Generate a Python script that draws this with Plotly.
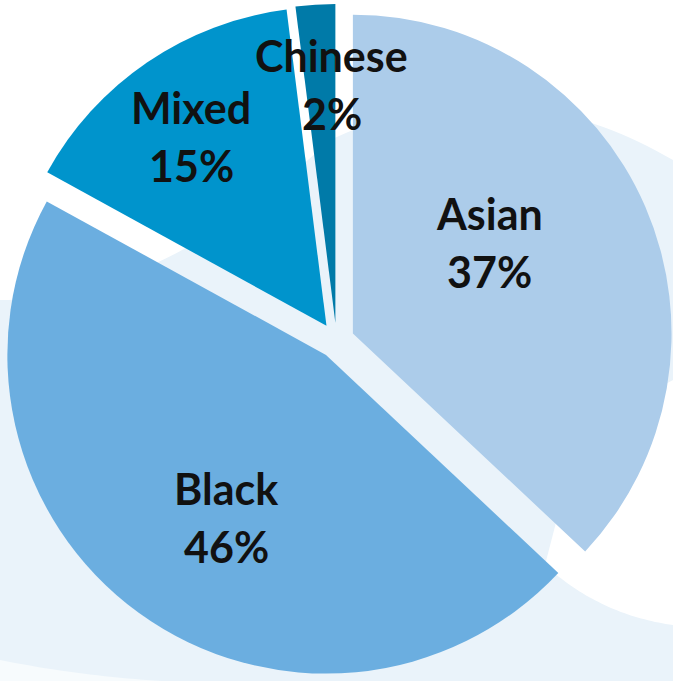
import plotly.graph_objects as go
import math

# ---- data ----
labels = ["Asian", "Black", "Mixed", "Chinese"]
values = [37, 46, 15, 2]

# ---- style ----
colors = ["#ACCCEA", "#6BAEE0", "#0094CC", "#007AA8"]
PULL = 0.056
W, H = 673, 681
label_ang_frac = [0.43, 0.475, 0.475, 0.86]   # where in each slice the label sits (angular)
label_rad_frac = [0.57, 0.655, 0.785, 0.805]  # distance from centre as fraction of radius
FONT = dict(family="Lato", size=43, color="#111111", weight="bold")
LINE_GAP = 58

fig = go.Figure(go.Pie(
    labels=labels, values=values, sort=False, direction="clockwise", rotation=0,
    pull=[PULL] * len(values), textinfo="none", hoverinfo="label+percent",
    marker=dict(colors=colors, line=dict(width=0)), showlegend=False,
    domain=dict(x=[0, 1], y=[0, 1]),
))

# label placement derived from the values
total = sum(values)
r = min(W, H) / 2 / (1 + PULL)
cx, cy = W / 2, H / 2
annotations = []
start = 0.0
for lab, v, af, rf in zip(labels, values, label_ang_frac, label_rad_frac):
    a0 = start / total * 360
    a1 = (start + v) / total * 360
    ang = math.radians(a0 + af * (a1 - a0))
    px = cx + rf * r * math.sin(ang)
    py = cy - rf * r * math.cos(ang)
    pct = f"{round(v / total * 100)}%"
    for txt, dy in ((lab, -LINE_GAP / 2), (pct, LINE_GAP / 2)):
        annotations.append(dict(
            x=px / W, y=1 - (py + dy) / H, xref="paper", yref="paper",
            text=txt, showarrow=False, font=FONT, xanchor="center", yanchor="middle",
        ))
    start += v


def P(pts):
    return " ".join(("M" if i == 0 else "L") + f"{x / W:.4f},{1 - y / H:.4f}" for i, (x, y) in enumerate(pts)) + " Z"


def curve(pts, n=40):
    out = []
    for k in range(0, len(pts) - 2, 2):
        p0, p1, p2 = pts[k], pts[k + 1], pts[k + 2]
        for i in range(n + 1):
            t = i / n
            x = (1 - t) ** 2 * p0[0] + 2 * (1 - t) * t * p1[0] + t ** 2 * p2[0]
            y = (1 - t) ** 2 * p0[1] + 2 * (1 - t) * t * p1[1] + t ** 2 * p2[1]
            out.append((x, y))
    return out


top_white = curve([(0, 300), (160, 300), (330, 140), (500, 60), (673, 160)]) + [(673, 0), (0, 0)]
right_swoosh = [(580, 430), (673, 380)] + curve([(673, 625), (600, 615), (545, 565)])
bottom_white = curve([(0, 660), (150, 690), (300, 681)]) + [(0, 681)]

shapes = [
    dict(type="path", path=P(top_white), xref="paper", yref="paper", fillcolor="#FFFFFF",
         line=dict(width=0), layer="below"),
    dict(type="path", path=P(right_swoosh), xref="paper", yref="paper", fillcolor="#FFFFFF",
         line=dict(width=0), layer="below"),
    dict(type="path", path=P(bottom_white), xref="paper", yref="paper", fillcolor="#F7FBFD",
         line=dict(width=0), layer="below"),
]

fig.update_layout(
    width=W, height=H, margin=dict(l=0, r=0, t=0, b=0),
    paper_bgcolor="#EAF3FA", plot_bgcolor="#EAF3FA",
    annotations=annotations, shapes=shapes,
)

fig.write_html("out.html")
